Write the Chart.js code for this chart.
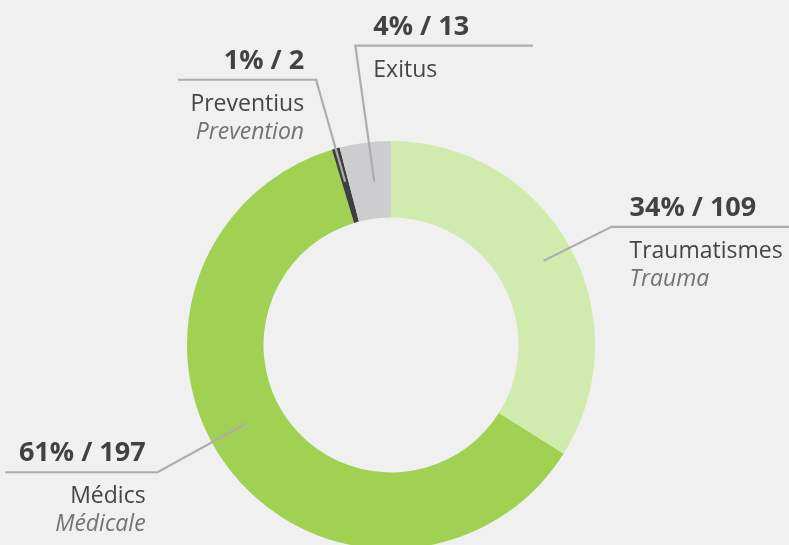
<!DOCTYPE html>
<html>
<head>
<meta charset="utf-8">
<script src="https://cdn.jsdelivr.net/npm/chart.js@4/dist/chart.umd.min.js"></script>
<style>
  html, body { margin: 0; padding: 0; background: #f0f0f0; overflow: hidden; }
  #wrap { position: relative; width: 789px; height: 600px; }
</style>
</head>
<body>
<div id="wrap"><canvas id="donut"></canvas></div>
<script>
// Data
const categories = ['Traumatismes', 'Médics', 'Preventius', 'Exitus'];
const categoriesFr = ['Trauma', 'Médicale', 'Prevention', ''];
const values = [109, 197, 2, 13];
const colors = ['#d1eaad', '#a0d152', '#3f3f40', '#cdcdcf'];

// Label layout: where the leader starts inside the ring, where it bends, where it ends
const labelLayout = [
  { frac: 0.50, depth: 0.61, bendX: 68, bendY: -34, endX: 789, side: 'right' },
  { frac: 0.54, depth: 0.48, bendX: -89, bendY: 49, endX: 5, side: 'left' },
  { frac: 0.50, depth: 0.55, bendX: -29, bendY: -102, endX: 178, side: 'left' },
  { frac: 0.60, depth: 0.48, bendX: -19, bendY: -136, endX: 533, side: 'right' },
];

const total = values.reduce((a, b) => a + b, 0);

const leaderLabels = {
  id: 'leaderLabels',
  afterDatasetsDraw(chart) {
    const ctx = chart.ctx;
    const arcs = chart.getDatasetMeta(0).data;
    ctx.save();
    arcs.forEach((arc, i) => {
      const p = arc.getProps(['x', 'y', 'startAngle', 'endAngle', 'innerRadius', 'outerRadius'], true);
      const L = labelLayout[i];
      const a = p.startAngle + (p.endAngle - p.startAngle) * L.frac;
      const r = p.innerRadius + (p.outerRadius - p.innerRadius) * L.depth;
      const ax = p.x + Math.cos(a) * r;
      const ay = p.y + Math.sin(a) * r;
      const bx = ax + L.bendX;
      const by = ay + L.bendY;

      ctx.strokeStyle = '#adadad';
      ctx.lineWidth = 2.2;
      ctx.beginPath();
      ctx.moveTo(ax, ay);
      ctx.lineTo(bx, by);
      ctx.lineTo(L.endX, by);
      ctx.stroke();

      const pct = Math.round(values[i] / total * 100);
      const tx = L.side === 'right' ? bx + 18 : bx - 12;
      ctx.textAlign = L.side === 'right' ? 'left' : 'right';
      ctx.textBaseline = 'alphabetic';

      ctx.fillStyle = '#424244';
      ctx.font = "bold 27px 'Open Sans', sans-serif";
      ctx.fillText(pct + '% / ' + values[i], tx, by - 11);

      ctx.fillStyle = '#454547';
      ctx.font = "23px 'Open Sans', sans-serif";
      ctx.fillText(categories[i], tx, by + 31);

      if (categoriesFr[i]) {
        ctx.fillStyle = '#737376';
        ctx.font = "italic 23px 'Open Sans', sans-serif";
        ctx.fillText(categoriesFr[i], tx, by + 59);
      }
    });
    ctx.restore();
  }
};

new Chart(document.getElementById('donut'), {
  type: 'doughnut',
  data: {
    labels: categories,
    datasets: [{
      data: values,
      backgroundColor: colors,
      borderWidth: 0,
      hoverOffset: 0,
    }],
  },
  options: {
    responsive: true,
    maintainAspectRatio: false,
    animation: false,
    cutout: '62.5%',
    layout: { padding: { left: 187, right: 194, top: 141, bottom: 51 } },
    plugins: {
      legend: { display: false },
      tooltip: { enabled: false },
    },
  },
  plugins: [leaderLabels],
});
</script>
</body>
</html>
